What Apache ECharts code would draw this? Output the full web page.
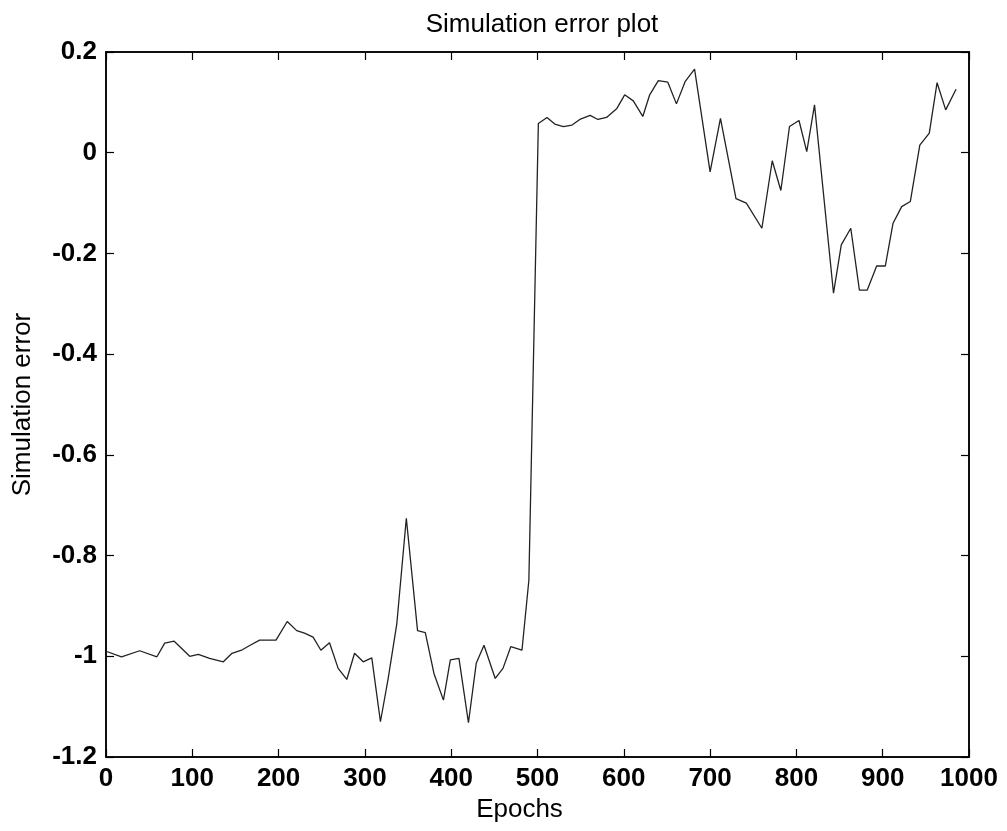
<!DOCTYPE html>
<html>
<head>
<meta charset="utf-8">
<script src="https://cdn.jsdelivr.net/npm/echarts@6/dist/echarts.min.js"></script>
<style>html,body{margin:0;padding:0;background:#fff;}#chart{width:1007px;height:831px;}</style>
</head>
<body>
<div id="chart"></div>
<script>
const epochs = [0,18,39,59,68,79,97,107,120,136,146,157,167,178,197,210,221,230,240,249,259,269,279,288,298,308,318,327,337,348,361,370,380,391,399,409,420,429,438,451,460,469,482,490,501,511,520,530,540,549,561,570,580,592,601,611,622,630,640,651,661,671,682,700,712,730,742,760,772,782,792,803,812,821,843,852,863,873,882,893,903,912,922,932,943,954,963,973,985];
const errors = [-0.99,-1.001,-0.989,-1.001,-0.974,-0.970,-1.0,-0.996,-1.004,-1.011,-0.994,-0.988,-0.978,-0.968,-0.968,-0.931,-0.949,-0.954,-0.962,-0.988,-0.973,-1.024,-1.046,-0.994,-1.011,-1.003,-1.13,-1.044,-0.935,-0.726,-0.949,-0.953,-1.034,-1.087,-1.007,-1.004,-1.132,-1.014,-0.978,-1.044,-1.024,-0.981,-0.988,-0.849,0.058,0.070,0.057,0.052,0.055,0.066,0.074,0.066,0.070,0.088,0.115,0.103,0.072,0.115,0.143,0.140,0.097,0.141,0.166,-0.038,0.068,-0.091,-0.10,-0.150,-0.016,-0.075,0.052,0.064,0.002,0.095,-0.279,-0.183,-0.150,-0.273,-0.273,-0.225,-0.225,-0.140,-0.107,-0.097,0.015,0.039,0.139,0.085,0.126];
const titleText = 'Simulation error plot';
const xName = 'Epochs';
const yName = 'Simulation error';

const FONT = 'Liberation Sans, Arial, sans-serif';
const chart = echarts.init(document.getElementById('chart'));
const lineStyle = {color:'#000', width:1.5};
const axisLine = {show:true, onZero:false, lineStyle};
const tick = {show:true, inside:true, length:8, lineStyle:{color:'#000', width:1.2}};
chart.setOption({
  animation:false,
  backgroundColor:'#fff',
  title:{text:titleText, left:537, top:7, textAlign:'center',
    textStyle:{fontFamily:FONT, fontSize:26, fontWeight:'normal', color:'#000'}},
  grid:{left:106, right:38, top:52, bottom:74, show:true, borderColor:'#000', borderWidth:1.5},
  xAxis:[{
    type:'value', min:0, max:1000, interval:100, position:'bottom',
    name:xName, nameLocation:'middle', nameGap:38,
    nameTextStyle:{fontFamily:FONT, fontSize:26, color:'#000', padding:[0,36,0,0]},
    axisLine, axisTick:tick, splitLine:{show:false},
    axisLabel:{fontFamily:FONT, fontSize:26, fontWeight:'bold', color:'#000', margin:9, formatter:v=>String(v)}
  },{
    type:'value', min:0, max:1000, interval:100, position:'top',
    axisLine, axisTick:tick, splitLine:{show:false},
    axisLabel:{show:false}
  }],
  yAxis:[{
    type:'value', min:-1.2, max:0.2, interval:0.2, position:'left',
    name:yName, nameLocation:'middle', nameGap:70,
    nameTextStyle:{fontFamily:FONT, fontSize:26, color:'#000'},
    axisLine, axisTick:tick, splitLine:{show:false},
    axisLabel:{fontFamily:FONT, fontSize:26, fontWeight:'bold', color:'#000', margin:9,
      formatter:v=>String(+v.toFixed(1))}
  },{
    type:'value', min:-1.2, max:0.2, interval:0.2, position:'right',
    axisLine, axisTick:tick, splitLine:{show:false},
    axisLabel:{show:false}
  }],
  series:[{
    type:'line', xAxisIndex:0, yAxisIndex:0,
    data:epochs.map((e,i)=>[e, errors[i]]),
    showSymbol:false, symbol:'none',
    lineStyle:{color:'#222', width:1.3}
  }]
});
</script>
</body>
</html>
